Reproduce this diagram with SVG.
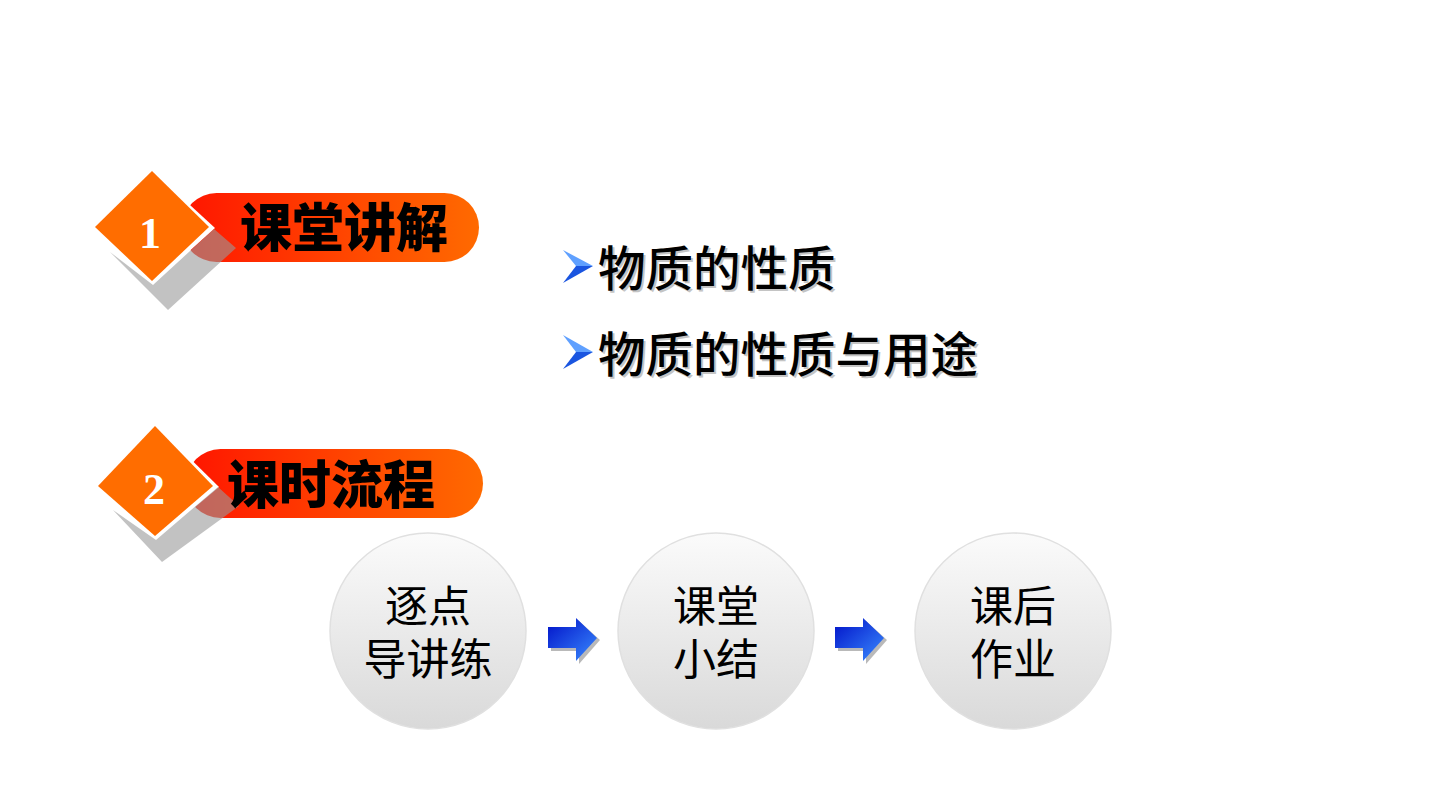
<svg xmlns="http://www.w3.org/2000/svg" width="1440" height="810" viewBox="0 0 1440 810">
<defs>
<linearGradient id="band" x1="0" y1="0" x2="1" y2="0">
<stop offset="0" stop-color="#ff1500"/>
<stop offset="0.6" stop-color="#ff4a00"/>
<stop offset="1" stop-color="#ff6a00"/>
</linearGradient>
<linearGradient id="ball" x1="0" y1="0" x2="0" y2="1">
<stop offset="0" stop-color="#fbfbfb"/>
<stop offset="1" stop-color="#d9d9d9"/>
</linearGradient>
<linearGradient id="blue" x1="0" y1="0" x2="1" y2="1">
<stop offset="0" stop-color="#0010c8"/>
<stop offset="1" stop-color="#3a8cff"/>
</linearGradient>
<style>
.hd{font-family:"Noto Sans CJK SC",sans-serif;font-weight:900;font-size:52px;fill:#000}
.num{font-family:"Liberation Serif",serif;font-weight:bold;font-size:44px;fill:#fff}
.bl{font-family:"Noto Sans CJK SC",sans-serif;font-weight:500;font-size:47.5px;fill:#000}
.bls{font-family:"Noto Sans CJK SC",sans-serif;font-weight:500;font-size:47.5px;fill:#c4c4c4}
.ct{font-family:"Noto Sans CJK SC",sans-serif;font-size:43px;fill:#000;text-anchor:middle}
.ball{fill:url(#ball);stroke:#e0e0e0;stroke-width:1.5}
</style>
</defs>
<rect width="1440" height="810" fill="#fff"/>

<g id="section1">
<rect x="182" y="193" width="297" height="69" rx="34.5" fill="url(#band)"/>
<polygon points="95,228 153,171 215,228 153,284" fill="#fff"/>
<polygon points="110,252 168,310 236,248 214,229 153,285" fill="#999" opacity="0.6"/>
<polygon points="95,227 152,171 209,227 152,281" fill="#ff6d00"/>
<text class="num" x="150" y="248" text-anchor="middle">1</text>
<text class="hd" x="240" y="247">课堂讲解</text>
</g>

<g id="bullet1">
<polygon points="563,250 593,266 576,266" fill="#5fa0ff"/>
<polygon points="563,283 593,266 576,266" fill="#1a55e0"/>
<text class="bls" x="600" y="288">物质的性质</text>
<text class="bl" x="598" y="286">物质的性质</text>
</g>
<g id="bullet2">
<polygon points="563,335 593,352 576,352" fill="#5fa0ff"/>
<polygon points="563,369 593,352 576,352" fill="#1a55e0"/>
<text class="bls" x="600" y="374">物质的性质与用途</text>
<text class="bl" x="598" y="372">物质的性质与用途</text>
</g>

<g id="section2">
<rect x="186" y="449" width="297" height="69" rx="34.5" fill="url(#band)"/>
<polygon points="98,487 156,425 219,487 156,540" fill="#fff"/>
<polygon points="113,510 162,562 239,506 218,487 156,540" fill="#999" opacity="0.6"/>
<polygon points="98,486 155,426 213,486 155,536" fill="#ff6d00"/>
<text class="num" x="154" y="504" text-anchor="middle">2</text>
<text class="hd" x="227" y="504">课时流程</text>
</g>

<g id="node1">
<circle class="ball" cx="428" cy="631" r="98"/>
<text class="ct" x="428" y="622">逐点</text>
<text class="ct" x="428" y="675">导讲练</text>
</g>
<g id="node2">
<circle class="ball" cx="716" cy="631" r="98"/>
<text class="ct" x="716" y="622">课堂</text>
<text class="ct" x="716" y="675">小结</text>
</g>
<g id="node3">
<circle class="ball" cx="1013" cy="631" r="98"/>
<text class="ct" x="1013" y="622">课后</text>
<text class="ct" x="1013" y="675">作业</text>
</g>

<g id="connectors">
<polygon points="551,630 579,630 579,621 600,640 579,664 579,651 551,651" fill="#8a8a8a" opacity="0.6"/>
<polygon points="548,627 576,627 576,618 597,638 576,661 576,648 548,648" fill="url(#blue)"/>
<polygon points="838,630 866,630 866,621 887,640 866,664 866,651 838,651" fill="#8a8a8a" opacity="0.6"/>
<polygon points="835,627 863,627 863,618 884,638 863,661 863,648 835,648" fill="url(#blue)"/>
</g>
</svg>
